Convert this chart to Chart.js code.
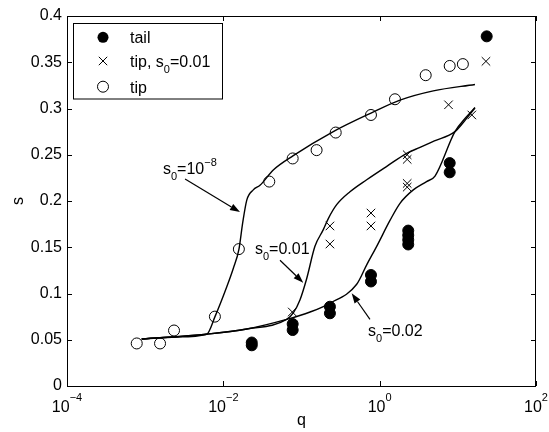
<!DOCTYPE html>
<html><head><meta charset="utf-8">
<script src="https://cdn.jsdelivr.net/npm/chart.js@4/dist/chart.umd.min.js"></script>
<style>html,body{margin:0;padding:0;background:#fff}</style>
</head><body>
<canvas id="c" width="549" height="432"></canvas>
<script>
const FONT = '"Liberation Sans", Arial, Helvetica, sans-serif';

// ---- data (q, s) ----
const tailQ = [0.0231, 0.0231, 0.0771, 0.0771, 0.231, 0.231, 0.774, 0.774, 2.32, 2.32, 2.32, 2.32, 7.87, 7.87, 23.4];
const tailS = [0.044, 0.047, 0.067, 0.0605, 0.0857, 0.0786, 0.120, 0.113, 0.168, 0.163, 0.158, 0.153, 0.241, 0.231, 0.378];

const tip001Q = [0.0762, 0.231, 0.231, 0.774, 0.774, 2.25, 2.25, 2.25, 2.25, 7.6, 15.1, 22.9];
const tip001S = [0.080, 0.173, 0.1535, 0.187, 0.173, 0.250, 0.245, 0.219, 0.215, 0.304, 0.293, 0.351];

const tipQ = [7.8e-4, 1.55e-3, 2.34e-3, 7.8e-3, 0.0158, 0.0387, 0.0771, 0.156, 0.274, 0.774, 1.57, 3.88, 7.87, 11.6];
const tipS = [0.046, 0.046, 0.060, 0.075, 0.148, 0.221, 0.246, 0.255, 0.274, 0.293, 0.310, 0.336, 0.346, 0.348];

// model curves
const fit1e8Q = [9.02e-4, 2.51e-3, 6.12e-3, 7.82e-3, 0.01104, 0.01340, 0.01585, 0.01766, 0.01995, 0.02415, 0.02944, 0.04355, 0.07852, 0.2553, 0.7745, 1.820, 4.853, 16.56];
const fit1e8S = [0.0508, 0.053, 0.056, 0.075, 0.107, 0.127, 0.148, 0.176, 0.201, 0.212, 0.217, 0.2335, 0.249, 0.275, 0.295, 0.309, 0.319, 0.326];

const fit001Q = [9.02e-4, 6.12e-3, 0.01995, 0.06457, 0.07852, 0.09550, 0.1164, 0.1486, 0.1901, 0.2203, 0.2818, 0.4169, 0.6823, 1.259, 2.218, 3.281, 5.012, 9.183, 12.59, 16.56];
const fit001S = [0.0508, 0.056, 0.0616, 0.072, 0.079, 0.093, 0.116, 0.151, 0.169, 0.181, 0.196, 0.210, 0.223, 0.238, 0.2515, 0.258, 0.265, 0.275, 0.288, 0.3005];

const fit002Q = [9.02e-4, 6.12e-3, 0.01995, 0.06457, 0.1288, 0.2312, 0.5082, 0.6823, 0.9162, 1.355, 1.820, 2.692, 3.981, 5.105, 9.183, 12.59, 16.56];
const fit002S = [0.0508, 0.056, 0.0616, 0.072, 0.080, 0.0894, 0.110, 0.131, 0.151, 0.179, 0.1975, 0.212, 0.221, 0.227, 0.275, 0.290, 0.301];

// axis ticks
const xTickValues = [1e-4, 1e-2, 1, 1e2];
const xTickExps = ['\u22124', '\u22122', '0', '2'];
const yTickValues = [0, 0.05, 0.1, 0.15, 0.2, 0.25, 0.3, 0.35, 0.4];

// legend
const legendLabels = [
  [{t: 'tail'}],
  [{t: 'tip, s'}, {t: '0', sub: true}, {t: '=0.01'}],
  [{t: 'tip'}]
];

// annotation labels (anchor in data coords)
const annotations = [
  {parts: [{t: 's'}, {t: '0', sub: true}, {t: '=10'}, {t: '\u22128', sup: true}], at: [1.69e-3, 0.2357], from: [3.24e-3, 0.2238], to: [0.01633, 0.188]},
  {parts: [{t: 's'}, {t: '0', sub: true}, {t: '=0.01'}], at: [0.0254, 0.149], from: [0.0531, 0.136], to: [0.1054, 0.1117]},
  {parts: [{t: 's'}, {t: '0', sub: true}, {t: '=0.02'}], at: [0.7096, 0.0605], from: [0.7516, 0.0721], to: [0.4385, 0.1002]}
];

const toPts = (xs, ys) => xs.map((x, i) => ({x, y: ys[i]}));

function drawRich(ctx, parts, x, y) {
  const base = y + 6;
  let cx = x;
  ctx.textBaseline = 'alphabetic';
  ctx.textAlign = 'left';
  for (const p of parts) {
    let dy = 0;
    if (p.sub) { ctx.font = '11px ' + FONT; dy = 6; }
    else if (p.sup) { ctx.font = '11px ' + FONT; dy = -8; }
    else ctx.font = '16px ' + FONT;
    ctx.fillText(p.t, cx, base + dy);
    cx += ctx.measureText(p.t).width;
  }
}

const decor = {
  id: 'decor',
  afterDraw(chart) {
    const ctx = chart.ctx;
    const a = chart.chartArea;
    const xs = chart.scales.x, ys = chart.scales.y;
    ctx.save();
    ctx.strokeStyle = '#000';
    ctx.fillStyle = '#000';
    ctx.lineWidth = 1;
    ctx.strokeRect(Math.round(a.left) + 0.5, Math.round(a.top) + 0.5, Math.round(a.right - a.left) - 1, Math.round(a.bottom - a.top));
    const tl = 5;
    ctx.beginPath();
    for (const v of yTickValues) {
      const py = Math.round(ys.getPixelForValue(v)) + 0.5;
      ctx.moveTo(a.left, py); ctx.lineTo(a.left + tl, py);
      ctx.moveTo(a.right, py); ctx.lineTo(a.right - tl, py);
    }
    for (const v of xTickValues) {
      const px = Math.round(xs.getPixelForValue(v)) + 0.5;
      ctx.moveTo(px, a.bottom); ctx.lineTo(px, a.bottom - tl);
      ctx.moveTo(px, a.top); ctx.lineTo(px, a.top + tl);
    }
    ctx.stroke();
    xTickValues.forEach((v, i) => {
      const px = xs.getPixelForValue(v);
      ctx.font = '16px ' + FONT;
      const w1 = ctx.measureText('10').width;
      ctx.font = '11px ' + FONT;
      const w2 = ctx.measureText(xTickExps[i]).width;
      const x0 = px - (w1 + w2) / 2;
      ctx.textBaseline = 'alphabetic'; ctx.textAlign = 'left';
      ctx.font = '16px ' + FONT;
      ctx.fillText('10', x0, a.bottom + 26);
      ctx.font = '11px ' + FONT;
      ctx.fillText(xTickExps[i], x0 + w1, a.bottom + 15);
    });
    const lx = a.left + 6.5, ly = a.top + 7.5, lw = 149, lh = 75.5;
    ctx.fillStyle = '#fff';
    ctx.fillRect(lx, ly, lw, lh);
    ctx.fillStyle = '#000';
    ctx.strokeRect(lx, ly, lw, lh);
    const rowY = [a.top + 21.3, a.top + 45, a.top + 70.7];
    const mx = a.left + 36;
    ctx.beginPath(); ctx.arc(mx, rowY[0], 5.5, 0, Math.PI * 2); ctx.fill();
    ctx.beginPath();
    ctx.moveTo(mx - 4.2, rowY[1] - 4.2); ctx.lineTo(mx + 4.2, rowY[1] + 4.2);
    ctx.moveTo(mx + 4.2, rowY[1] - 4.2); ctx.lineTo(mx - 4.2, rowY[1] + 4.2);
    ctx.stroke();
    ctx.beginPath(); ctx.arc(mx, rowY[2], 5.5, 0, Math.PI * 2); ctx.stroke();
    legendLabels.forEach((parts, i) => drawRich(ctx, parts, a.left + 63, rowY[i]));
    for (const an of annotations) {
      drawRich(ctx, an.parts, xs.getPixelForValue(an.at[0]), ys.getPixelForValue(an.at[1]));
      const x1 = xs.getPixelForValue(an.from[0]), y1 = ys.getPixelForValue(an.from[1]);
      const x2 = xs.getPixelForValue(an.to[0]), y2 = ys.getPixelForValue(an.to[1]);
      const ang = Math.atan2(y2 - y1, x2 - x1);
      const hl = 10, hw = 3.5;
      const bx = x2 - hl * Math.cos(ang), by = y2 - hl * Math.sin(ang);
      ctx.lineWidth = 1.2;
      ctx.beginPath(); ctx.moveTo(x1, y1); ctx.lineTo(bx, by); ctx.stroke();
      ctx.beginPath();
      ctx.moveTo(x2, y2);
      ctx.lineTo(bx + hw * Math.sin(ang), by - hw * Math.cos(ang));
      ctx.lineTo(bx - hw * Math.sin(ang), by + hw * Math.cos(ang));
      ctx.closePath(); ctx.fill();
    }
    ctx.restore();
  }
};

const lineDs = (xs, ys) => ({
  data: toPts(xs, ys), showLine: true, borderColor: '#000', borderWidth: 1.4,
  pointRadius: 0, cubicInterpolationMode: 'monotone', fill: false
});

new Chart(document.getElementById('c'), {
  type: 'scatter',
  data: {
    datasets: [
      lineDs(fit1e8Q, fit1e8S),
      lineDs(fit001Q, fit001S),
      lineDs(fit002Q, fit002S),
      {label: 'tail', data: toPts(tailQ, tailS), pointStyle: 'circle', pointRadius: 5.5, backgroundColor: '#000', borderColor: '#000', borderWidth: 1},
      {label: 'tip, s0=0.01', data: toPts(tip001Q, tip001S), pointStyle: 'crossRot', pointRadius: 6, borderColor: '#000', borderWidth: 1},
      {label: 'tip', data: toPts(tipQ, tipS), pointStyle: 'circle', pointRadius: 5.5, backgroundColor: 'rgba(0,0,0,0)', borderColor: '#000', borderWidth: 1}
    ]
  },
  options: {
    responsive: false, animation: false, events: [],
    layout: {padding: {top: 16, right: 13, left: 0, bottom: 0}},
    plugins: {legend: {display: false}, tooltip: {enabled: false}},
    scales: {
      x: {
        type: 'logarithmic', min: 1e-4, max: 1e2,
        grid: {display: false}, border: {display: false},
        ticks: {display: false},
        title: {display: true, text: 'q', color: '#000', font: {family: FONT, size: 16}, padding: {top: 0, bottom: 2}},
        afterFit(s) { s.height = 46; }
      },
      y: {
        min: 0, max: 0.4,
        grid: {display: false, drawTicks: false}, border: {display: false},
        ticks: {stepSize: 0.05, padding: 5, color: '#000', font: {family: FONT, size: 16},
          callback: v => String(+(+v).toFixed(2))},
        title: {display: true, text: 's', color: '#000', font: {family: FONT, size: 16}, padding: {top: 9, bottom: 0}},
        afterFit(s) { s.width = 67; }
      }
    }
  },
  plugins: [decor]
});
</script>
</body></html>
